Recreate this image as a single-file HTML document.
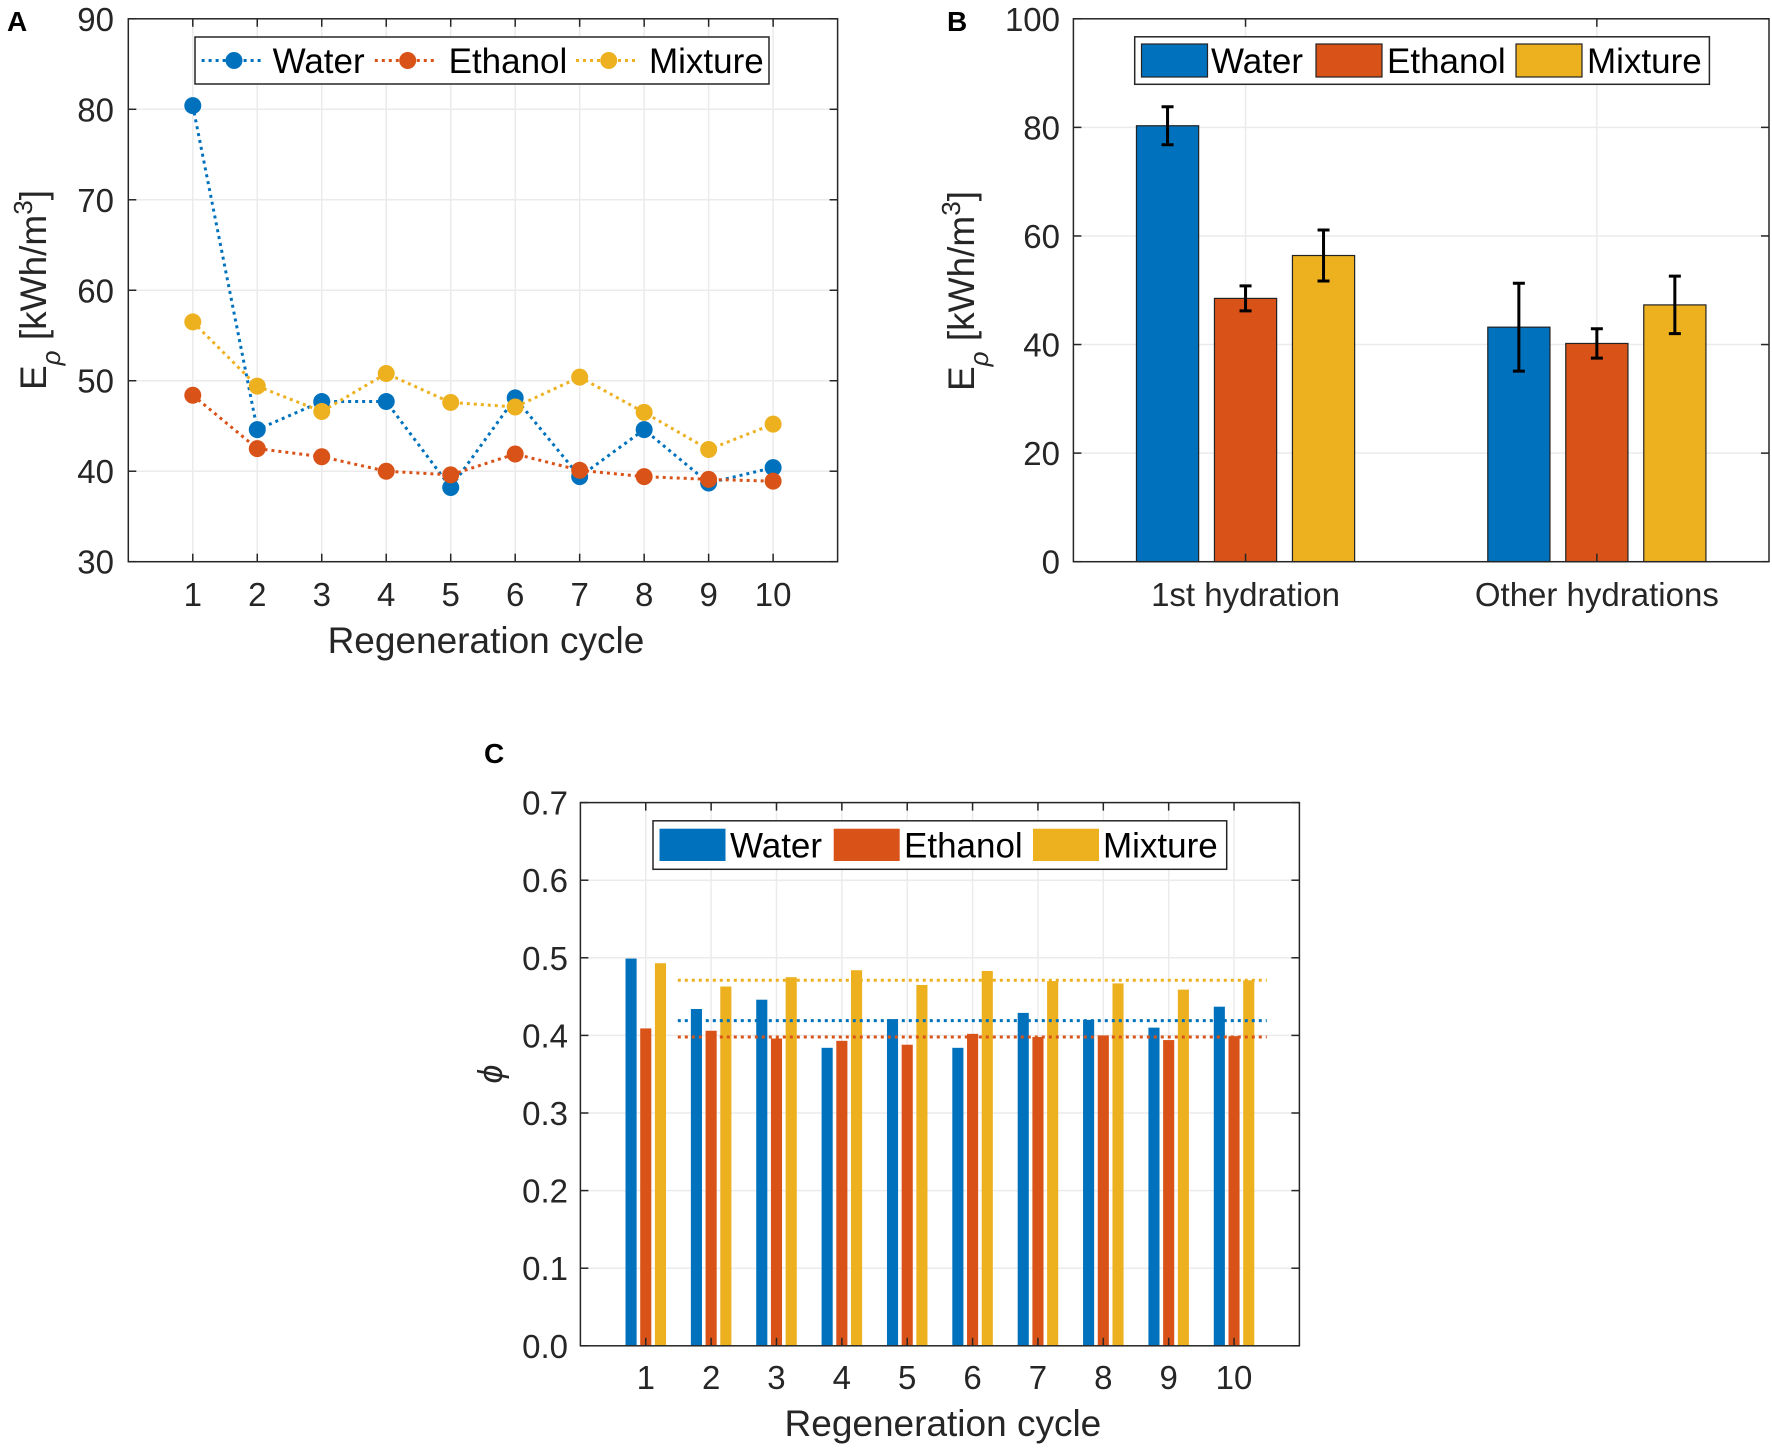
<!DOCTYPE html>
<html><head><meta charset="utf-8"><style>
html,body{margin:0;padding:0;background:#fff}
svg{display:block;font-family:"Liberation Sans",Arial,sans-serif}
</style></head><body>
<svg id="fig" width="1772" height="1448" viewBox="0 0 1772 1448" xmlns="http://www.w3.org/2000/svg"></svg>
<script>
// ---------- Panel A data ----------
const cyclesA = [1,2,3,4,5,6,7,8,9,10];
const waterA = [80.4,44.6,47.7,47.7,38.2,48.1,39.4,44.6,38.7,40.4];
const ethanolA = [48.4,42.5,41.6,40.0,39.6,41.9,40.1,39.4,39.1,38.9];
const mixtureA = [56.5,49.4,46.6,50.8,47.6,47.1,50.4,46.5,42.4,45.2];
const yTicksA = [30,40,50,60,70,80,90];
// ---------- Panel B data ----------
const categoriesB = ["1st hydration","Other hydrations"];
const waterB = [80.3,43.2];
const ethanolB = [48.5,40.2];
const mixtureB = [56.4,47.3];
const waterErrB = [3.5,8.1];
const ethanolErrB = [2.3,2.7];
const mixtureErrB = [4.7,5.3];
const yTicksB = [0,20,40,60,80,100];
// ---------- Panel C data ----------
const cyclesC = [1,2,3,4,5,6,7,8,9,10];
const waterC = [0.499,0.434,0.446,0.384,0.421,0.384,0.429,0.420,0.410,0.437];
const ethanolC = [0.409,0.406,0.396,0.393,0.388,0.402,0.398,0.400,0.394,0.399];
const mixtureC = [0.493,0.463,0.475,0.484,0.465,0.483,0.470,0.467,0.459,0.471];
const meansC = [0.419,0.398,0.471];
const yTicksC = ["0.0","0.1","0.2","0.3","0.4","0.5","0.6","0.7"];

const COL = ["#0072BD","#D95319","#EDB120"];
const NS = "http://www.w3.org/2000/svg";
const svg = document.getElementById('fig');
const TICKF = 33, TITLEF = 37, LEGF = 35;
function el(tag, attrs, parent, txt){
  const e = document.createElementNS(NS, tag);
  for (const k in attrs) e.setAttribute(k, attrs[k]);
  if (txt !== undefined) e.textContent = txt;
  (parent||svg).appendChild(e);
  return e;
}
function group(name){
  const g = document.createElementNS(NS,'g');
  
  
  svg.appendChild(g);
  return g;
}
const TXT = "#262626";

function axesFrame(g, L, R, T, B, yvals, ysc, xvals, xsc, opts){
  yvals.forEach(v=>{ const yy=ysc(v); el('line',{x1:L,x2:R,y1:yy,y2:yy,stroke:'#ebebeb','stroke-width':1.5},g); });
  if (opts.xgrid) xvals.forEach(v=>{ const xx=xsc(v); el('line',{x1:xx,x2:xx,y1:T,y2:B,stroke:'#ebebeb','stroke-width':1.5},g); });
}
function axesBox(g, L, R, T, B, yvals, ysc, ylabels, xvals, xsc, xlabels, opts){
  el('rect',{x:L,y:T,width:R-L,height:B-T,fill:'none',stroke:TXT,'stroke-width':1.5},g);
  yvals.forEach((v,i)=>{
    const yy=ysc(v);
    el('line',{x1:L,x2:L+8,y1:yy,y2:yy,stroke:TXT,'stroke-width':1.5},g);
    el('line',{x1:R,x2:R-8,y1:yy,y2:yy,stroke:TXT,'stroke-width':1.5},g);
    const t=el('text',{x:opts.yLabRight,y:yy+12,'text-anchor':'end','font-size':TICKF,fill:TXT},g,ylabels[i]);
    
    
  });
  xvals.forEach((v,i)=>{
    const xx=xsc(v);
    el('line',{x1:xx,x2:xx,y1:B,y2:B-8,stroke:TXT,'stroke-width':1.5},g);
    if (opts.topTicks) el('line',{x1:xx,x2:xx,y1:T,y2:T+8,stroke:TXT,'stroke-width':1.5},g);
    const t=el('text',{x:xx,y:opts.xLabBase,'text-anchor':'middle','font-size':TICKF,fill:TXT},g,xlabels[i]);
    
    
  });
}
function eLabel(g, cx, cy){
  const t = el('text',{x:0,y:0,'font-size':TITLEF,fill:TXT,transform:`translate(${cx},${cy}) rotate(-90)`,'text-anchor':'middle'},g);
  
  
  el('tspan',{},t,'E');
  el('tspan',{'font-size':26,'font-style':'italic',dy:14},t,'ρ');
  el('tspan',{dy:-14},t,' [kWh/m');
  el('tspan',{'font-size':26,dy:-14},t,'3');
  el('tspan',{dy:14},t,']');
}

// ================= Panel A =================
(function(){
  const g = group('panel-a');
  const L=128.3,R=837.6,T=18.8,B=561.7;
  const xs = v => L + (v-0)/11*(R-L);
  const ys = v => B - (v-30)/60*(B-T);
  axesFrame(g,L,R,T,B,yTicksA,ys,cyclesA,xs,{xgrid:true});
  const series=[waterA,ethanolA,mixtureA], names=['water','ethanol','mixture'];
  series.forEach((arr,si)=>{
    const pts = arr.map((v,i)=>xs(cyclesA[i])+','+ys(v)).join(' ');
    const pl = el('polyline',{points:pts,fill:'none',stroke:COL[si],'stroke-width':3,'stroke-dasharray':'3 4'},g);
    
    
  });
  series.forEach((arr,si)=>{
    arr.forEach((v,i)=>{
      const c = el('circle',{cx:xs(cyclesA[i]),cy:ys(v),r:8.5,fill:COL[si]},g);
      
      
    });
  });
  axesBox(g,L,R,T,B,yTicksA,ys,yTicksA.map(String),cyclesA,xs,cyclesA.map(String),{yLabRight:114,xLabBase:606,topTicks:true});
  const xt = el('text',{x:(L+R)/2+3,y:653,'text-anchor':'middle','font-size':TITLEF,fill:TXT},g,'Regeneration cycle');
   
  eLabel(g,46,290);
  const pl = el('text',{x:7,y:31,'font-size':28,'font-weight':'bold',fill:'#000'},g,'A');
   
  const lg = el('g',{},g);  
  el('rect',{x:195,y:37,width:574,height:47,fill:'#fff',stroke:TXT,'stroke-width':1.5},lg);
  const lx=[[201.6,264,234,272.6],[374.8,437.3,407.7,448.6],[576,639,608.7,649]], ln=['Water','Ethanol','Mixture'];
  lx.forEach((p,i)=>{
    el('line',{x1:p[0],x2:p[1],y1:60.5,y2:60.5,stroke:COL[i],'stroke-width':3,'stroke-dasharray':'3 4'},lg);
    el('circle',{cx:p[2],cy:60.5,r:8.5,fill:COL[i]},lg);
    const t=el('text',{x:p[3],y:73,'font-size':LEGF,fill:'#000'},lg,ln[i]);
     
  });
})();

// ================= Panel B =================
(function(){
  const g = group('panel-b');
  const L=1073.4,R=1769,T=18.8,B=561.7;
  const xs = v => L + (v-0.51)/1.98*(R-L);
  const ys = v => B - v/100*(B-T);
  axesFrame(g,L,R,T,B,yTicksB,ys,[1,2],xs,{xgrid:true});
  const series=[waterB,ethanolB,mixtureB], errs=[waterErrB,ethanolErrB,mixtureErrB], names=['water','ethanol','mixture'];
  const off=[-0.222,0,0.222], bw=0.177;
  series.forEach((arr,si)=>{
    arr.forEach((v,i)=>{
      const x0 = xs(i+1+off[si]-bw/2), x1 = xs(i+1+off[si]+bw/2);
      const r = el('rect',{x:x0,y:ys(v),width:x1-x0,height:ys(0)-ys(v),fill:COL[si],stroke:'#222','stroke-width':1.2},g);
      
      
    });
  });
  series.forEach((arr,si)=>{
    arr.forEach((v,i)=>{
      const cx = xs(i+1+off[si]), e=errs[si][i];
      const eb = el('path',{d:`M${cx},${ys(v-e)}V${ys(v+e)}M${cx-6},${ys(v-e)}H${cx+6}M${cx-6},${ys(v+e)}H${cx+6}`,stroke:'#000','stroke-width':3,fill:'none'},g);
      
      
    });
  });
  axesBox(g,L,R,T,B,yTicksB,ys,yTicksB.map(String),[1,2],xs,categoriesB,{yLabRight:1060,xLabBase:606,topTicks:true});
  eLabel(g,974,291);
  const pl = el('text',{x:947,y:31,'font-size':28,'font-weight':'bold',fill:'#000'},g,'B');
   
  const lg = el('g',{},g);  
  el('rect',{x:1134.7,y:36.8,width:574.7,height:47.5,fill:'#fff',stroke:TXT,'stroke-width':1.5},lg);
  const sw=[[1141.5,1211],[1316,1387],[1516,1587]], ln=['Water','Ethanol','Mixture'];
  sw.forEach((p,i)=>{
    el('rect',{x:p[0],y:44,width:66,height:33,fill:COL[i],stroke:'#222','stroke-width':1.2},lg);
    const t=el('text',{x:p[1],y:73,'font-size':LEGF,fill:'#000'},lg,ln[i]);
     
  });
})();

// ================= Panel C =================
(function(){
  const g = group('panel-c');
  const L=580.4,R=1299.4,T=802.6,B=1345.8;
  const xs = v => L + v/11*(R-L);
  const ys = v => B - v/0.7*(B-T);
  const yv = yTicksC.map(Number);
  axesFrame(g,L,R,T,B,yv,ys,cyclesC,xs,{xgrid:true});
  const series=[waterC,ethanolC,mixtureC], names=['water','ethanol','mixture'];
  const off=[-0.225,0,0.225], bw=0.17;
  series.forEach((arr,si)=>{
    arr.forEach((v,i)=>{
      const x0 = xs(cyclesC[i]+off[si]-bw/2), x1 = xs(cyclesC[i]+off[si]+bw/2);
      const r = el('rect',{x:x0,y:ys(v),width:x1-x0,height:ys(0)-ys(v),fill:COL[si]},g);
      
      
    });
  });
  meansC.forEach((m,si)=>{
    const ln = el('line',{x1:xs(1.49),x2:xs(10.5),y1:ys(m),y2:ys(m),stroke:COL[si],'stroke-width':3,'stroke-dasharray':'3 4'},g);
    
    
  });
  axesBox(g,L,R,T,B,yv,ys,yTicksC,cyclesC,xs,cyclesC.map(String),{yLabRight:568,xLabBase:1389,topTicks:true});
  const xt = el('text',{x:(L+R)/2+3,y:1436,'text-anchor':'middle','font-size':TITLEF,fill:TXT},g,'Regeneration cycle');
   
  const yt = el('text',{x:0,y:0,'font-size':34,'font-style':'italic',fill:TXT,'text-anchor':'middle',transform:'translate(502,1074) rotate(-90)'},g,'ϕ');
   
  const pl = el('text',{x:484,y:763,'font-size':28,'font-weight':'bold',fill:'#000'},g,'C');
   
  const lg = el('g',{},g);  
  el('rect',{x:653,y:820.8,width:573.7,height:48.5,fill:'#fff',stroke:TXT,'stroke-width':1.5},lg);
  const sw=[[659.5,730],[833.7,904],[1033,1103]], ln=['Water','Ethanol','Mixture'];
  sw.forEach((p,i)=>{
    el('rect',{x:p[0],y:828.7,width:66,height:32.3,fill:COL[i]},lg);
    const t=el('text',{x:p[1],y:857.5,'font-size':LEGF,fill:'#000'},lg,ln[i]);
     
  });
})();
</script>
</body></html>
